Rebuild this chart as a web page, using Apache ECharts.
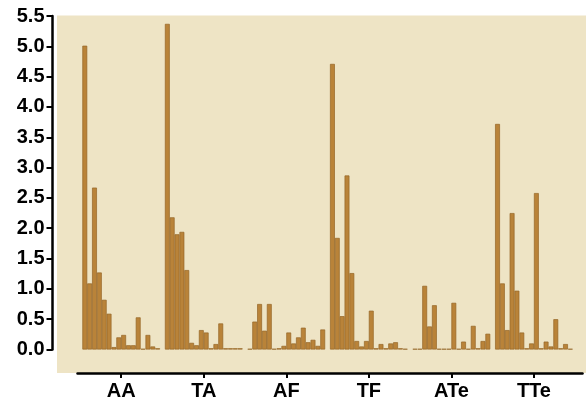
<!DOCTYPE html>
<html>
<head>
<meta charset="utf-8">
<script src="https://cdn.jsdelivr.net/npm/echarts@6/dist/echarts.min.js"></script>
<style>html,body{margin:0;padding:0;background:#fff;}#c{width:586px;height:406px;}</style>
</head>
<body>
<div id="c"></div>
<script>
var categories = ['AA', 'TA', 'AF', 'TF', 'ATe', 'TTe'];
var yTicks = [0, 0.5, 1.0, 1.5, 2.0, 2.5, 3.0, 3.5, 4.0, 4.5, 5.0, 5.5];

var valuesAA  = [5.01, 1.09, 2.67, 1.27, 0.82, 0.59, 0.04, 0.20, 0.24, 0.07, 0.07, 0.53, 0.01, 0.24, 0.05, 0.02];
var valuesTA  = [5.37, 2.18, 1.90, 1.94, 1.31, 0.11, 0.07, 0.32, 0.28, 0.02, 0.09, 0.43, 0.02, 0.02, 0.02, 0.02];
var valuesAF  = [0.01, 0.46, 0.75, 0.31, 0.75, 0.01, 0.02, 0.06, 0.28, 0.10, 0.20, 0.36, 0.12, 0.16, 0.06, 0.33];
var valuesTF  = [4.71, 1.84, 0.55, 2.87, 1.26, 0.14, 0.05, 0.14, 0.64, 0.02, 0.09, 0.02, 0.10, 0.12, 0.02, 0.01];
var valuesATe = [0.01, 0.01, 1.05, 0.38, 0.73, 0.01, 0.01, 0.01, 0.77, 0.01, 0.13, 0.01, 0.39, 0.02, 0.14, 0.26];
var valuesTTe = [3.72, 1.09, 0.32, 2.25, 0.97, 0.28, 0.02, 0.10, 2.58, 0.02, 0.13, 0.05, 0.50, 0.02, 0.09, 0.01];

var groups = [valuesAA, valuesTA, valuesAF, valuesTF, valuesATe, valuesTTe];

// slot layout: one leading empty slot, each group of bars followed by an empty slot, one trailing empty slot
var barData = [null];
groups.forEach(function (g) { barData = barData.concat(g); barData.push(null); });
barData.push(null);
var slotNames = barData.map(function (v, i) { return 's' + i; });

// label axis: points at slot boundaries; group label at centre of each group of bars
var boundaryLabels = [];
for (var i = 0; i <= barData.length; i++) boundaryLabels.push('');
categories.forEach(function (c, k) { boundaryLabels[1 + 17 * k + 8] = c; });

var chart = echarts.init(document.getElementById('c'), null, {renderer: 'canvas'});
var FONT = '"Liberation Sans", Arial, Helvetica, sans-serif';
chart.setOption({
  animation: false,
  backgroundColor: '#ffffff',
  graphic: [{
    type: 'rect', z: -10, silent: true,
    shape: {x: 57, y: 15.5, width: 529, height: 357.5},
    style: {fill: '#EEE4C5'}
  }],
  grid: {left: 77.5, right: 3.5, top: 16, bottom: 56.5, containLabel: false},
  xAxis: [{
    type: 'category', data: slotNames, show: false, boundaryGap: true
  }, {
    type: 'category', data: boundaryLabels, boundaryGap: false, position: 'bottom', offset: 23.5,
    axisLine: {show: true, lineStyle: {color: '#000', width: 2.5}},
    axisTick: {show: true, length: 5, lineStyle: {color: '#000', width: 2},
      interval: function (i, v) { return v !== ''; }},
    axisLabel: {show: true, color: '#000', fontSize: 20, fontWeight: 'bold', fontFamily: FONT, margin: 8,
      interval: function (i, v) { return v !== ''; }},
    splitLine: {show: false}
  }],
  yAxis: {
    type: 'value', min: yTicks[0], max: yTicks[yTicks.length - 1], interval: 0.5, offset: 25,
    axisLine: {show: true, lineStyle: {color: '#000', width: 2.5}},
    axisTick: {show: true, length: 6, lineStyle: {color: '#000', width: 2}},
    axisLabel: {color: '#000', fontSize: 20, fontWeight: 'bold', fontFamily: FONT, margin: 8,
      formatter: function (v) { return v.toFixed(1); }},
    splitLine: {show: false}
  },
  series: [{
    type: 'bar', xAxisIndex: 0, data: barData, barCategoryGap: '0%', barGap: '0%',
    itemStyle: {color: '#B98339', borderColor: '#956626', borderWidth: 0.7}
  }]
});
</script>
</body>
</html>
